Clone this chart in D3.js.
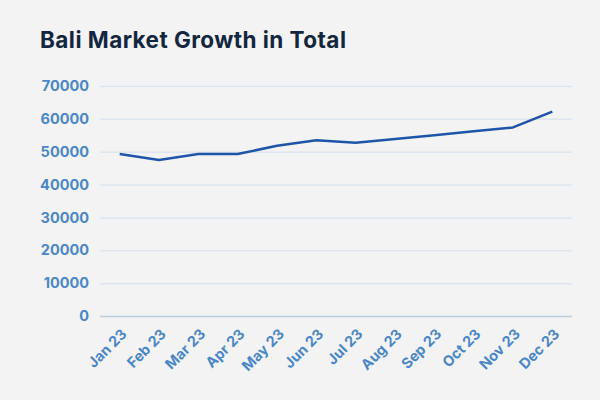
<!DOCTYPE html>
<html><head><meta charset="utf-8">
<script src="https://cdn.jsdelivr.net/npm/d3@7"></script>
<style>body{margin:0;background:#f3f3f3;}svg{display:block;}</style>
</head><body><svg id="c" width="600" height="400"></svg>
<script>
const months = ["Jan 23","Feb 23","Mar 23","Apr 23","May 23","Jun 23","Jul 23","Aug 23","Sep 23","Oct 23","Nov 23","Dec 23"];
const totals = [49300,47500,49300,49300,51800,53500,52700,53900,55000,56200,57400,62200];
const yTicks = [0,10000,20000,30000,40000,50000,60000,70000];

const svg = d3.select("#c");
svg.append("rect").attr("width",600).attr("height",400).attr("fill","#f3f3f3");
const m = {left:100,right:28,top:86,bottom:84};
const W = 600-m.left-m.right, H = 400-m.top-m.bottom;
const g = svg.append("g").attr("transform",`translate(${m.left},${m.top})`);
const x = d3.scaleBand().domain(months).range([0,W]);
const y = d3.scaleLinear().domain([0,70000]).range([H,0]);

svg.append("text").attr("x",40).attr("y",47.5).text("Bali Market Growth in Total")
  .attr("font-family","Inter, 'Open Sans', sans-serif").attr("font-weight",700)
  .attr("font-size",22.5).attr("letter-spacing",0.45).attr("fill","#13263f");

const ya = g.append("g").call(d3.axisLeft(y).tickValues(yTicks).tickSize(-W).tickPadding(11).tickFormat(d3.format("d")));
ya.select(".domain").remove();
ya.selectAll(".tick line").attr("stroke",d=>d===0?"#b9cde0":"#dde5ee").attr("stroke-width",1.5);
ya.selectAll(".tick text").attr("fill","#4a87c6").attr("font-size",14.5).attr("font-weight",700)
  .attr("font-family","Inter, sans-serif");

const xa = g.append("g").attr("transform",`translate(0,${H})`).call(d3.axisBottom(x).tickSize(0).tickPadding(0));
xa.select(".domain").remove();
xa.selectAll(".tick text").attr("fill","#4a87c6").attr("font-size",14.5).attr("font-weight",700)
  .attr("font-family","Inter, sans-serif").attr("text-anchor","end").attr("dy",0)
  .attr("transform","translate(8,19) rotate(-45)");

g.append("path").datum(totals).attr("fill","none").attr("stroke","#1f55a8").attr("stroke-width",2.5)
  .attr("stroke-linejoin","round")
  .attr("d",d3.line().x((d,i)=>x(months[i])+x.bandwidth()/2).y(d=>y(d)));
</script></body></html>
